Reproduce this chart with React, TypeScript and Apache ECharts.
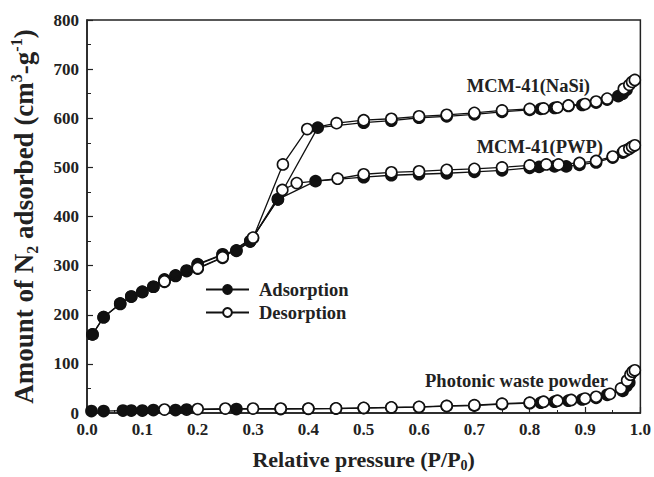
import React, { useEffect, useRef } from "react";
import * as echarts from "echarts";

const xTicks = [0, 0.1, 0.2, 0.3, 0.4, 0.5, 0.6, 0.7, 0.8, 0.9, 1.0];

const nasiAds: [number, number][] = [
  [0.01, 160], [0.03, 195], [0.06, 222], [0.08, 237], [0.1, 246], [0.12, 257], [0.14, 272],
  [0.16, 279], [0.18, 289], [0.2, 302], [0.245, 322], [0.27, 330], [0.295, 349], [0.345, 435],
  [0.417, 581], [0.5, 591], [0.55, 595], [0.6, 601], [0.65, 604], [0.7, 608], [0.75, 613],
  [0.8, 617], [0.82, 619], [0.845, 621], [0.87, 625], [0.895, 627], [0.92, 632], [0.94, 638],
  [0.96, 645], [0.968, 650], [0.975, 658],
];
const nasiDes: [number, number][] = [
  [0.14, 267], [0.2, 294], [0.245, 316], [0.3, 356], [0.354, 506], [0.398, 578], [0.451, 590],
  [0.5, 596], [0.55, 599], [0.6, 604], [0.65, 607], [0.7, 611], [0.75, 616], [0.8, 619],
  [0.825, 620], [0.85, 622], [0.87, 626], [0.9, 629], [0.92, 634], [0.94, 640], [0.97, 660],
  [0.98, 668], [0.985, 674], [0.99, 678],
];
const pwpAds: [number, number][] = [
  [0.01, 160], [0.03, 195], [0.06, 223], [0.08, 237], [0.1, 247], [0.12, 257], [0.14, 270],
  [0.16, 280], [0.18, 290], [0.2, 303], [0.245, 323], [0.27, 331], [0.295, 350], [0.345, 435],
  [0.413, 472], [0.5, 480], [0.55, 484], [0.6, 486], [0.65, 488], [0.7, 491], [0.75, 494],
  [0.8, 499], [0.817, 501], [0.845, 502], [0.866, 502], [0.89, 505], [0.92, 510], [0.95, 520],
  [0.968, 530], [0.975, 535],
];
const pwpDes: [number, number][] = [
  [0.14, 268], [0.2, 295], [0.245, 317], [0.3, 357], [0.353, 454], [0.379, 468], [0.453, 477],
  [0.5, 486], [0.55, 490], [0.6, 492], [0.65, 495], [0.7, 497], [0.75, 500], [0.8, 504],
  [0.83, 506], [0.852, 506], [0.89, 509], [0.92, 513], [0.95, 522], [0.97, 533], [0.98, 538],
  [0.985, 542], [0.99, 545],
];
const photoAds: [number, number][] = [
  [0.008, 4], [0.03, 4], [0.065, 5], [0.08, 5], [0.1, 5], [0.12, 6], [0.16, 6], [0.18, 7],
  [0.27, 8], [0.35, 8], [0.4, 8.5], [0.45, 9], [0.5, 10], [0.55, 11], [0.6, 12], [0.65, 14],
  [0.7, 15], [0.75, 18], [0.8, 20], [0.82, 21], [0.845, 23], [0.87, 25], [0.895, 27.5],
  [0.92, 31], [0.94, 37], [0.968, 45], [0.975, 55], [0.98, 62],
];
const photoDes: [number, number][] = [
  [0.14, 7], [0.2, 8], [0.25, 9], [0.3, 9], [0.35, 9], [0.4, 9], [0.45, 9.5], [0.5, 10.5],
  [0.55, 11.5], [0.6, 12.5], [0.65, 14.5], [0.7, 16], [0.75, 19], [0.8, 21], [0.825, 23],
  [0.85, 25], [0.875, 26.5], [0.9, 29.5], [0.92, 33], [0.945, 39], [0.965, 50], [0.976, 66],
  [0.982, 78], [0.986, 84], [0.99, 87],
];

const FONT = "Liberation Serif";

export default function App() {
  const ref = useRef<HTMLDivElement>(null);
  useEffect(() => {
    if (!ref.current) return;
    const chart = echarts.init(ref.current, undefined, { renderer: "svg" });
    const mk = (name: string, data: [number, number][], filled: boolean) => ({
      name,
      type: "line",
      data,
      symbol: "circle",
      symbolSize: 11,
      showSymbol: true,
      lineStyle: { color: "#111", width: 1.3 },
      itemStyle: {
        color: filled ? "#111" : "#fff",
        borderColor: "#111",
        borderWidth: 1.6,
      },
      z: filled ? 2 : 3,
    });
    const richY = {
      b: { fontFamily: FONT, fontWeight: "bold", fontSize: 27, color: "#222", lineHeight: 32 },
      sub: { fontFamily: FONT, fontWeight: "bold", fontSize: 16, color: "#222", lineHeight: 13, verticalAlign: "bottom" },
      sup: { fontFamily: FONT, fontWeight: "bold", fontSize: 16, color: "#222", lineHeight: 13, verticalAlign: "top" },
    };
    const richX = {
      b: { fontFamily: FONT, fontWeight: "bold", fontSize: 22, color: "#222", lineHeight: 26 },
      sub: { fontFamily: FONT, fontWeight: "bold", fontSize: 14, color: "#222", lineHeight: 10, verticalAlign: "bottom" },
    };
    const lblFont = `bold 18.5px "${FONT}"`;
    chart.setOption({
      animation: false,
      backgroundColor: "#fff",
      grid: {
        left: 82, right: 13, top: 20, bottom: 59,
        show: true, borderColor: "#222", borderWidth: 1.5, backgroundColor: "transparent",
      },
      xAxis: {
        type: "value",
        min: 0, max: 1, interval: 0.1,
        axisLine: { lineStyle: { color: "#222", width: 1.5 } },
        axisTick: { inside: true, length: 6, lineStyle: { color: "#222", width: 1.2 } },
        minorTick: { show: true, splitNumber: 2, length: 3, lineStyle: { color: "#222", width: 1 } },
        splitLine: { show: false },
        axisLabel: {
          fontFamily: FONT, fontWeight: "bold", fontSize: 17, color: "#222", margin: 8,
          formatter: (v: number) => (xTicks.some((t) => Math.abs(t - v) < 1e-6) ? v.toFixed(1) : ""),
        },
        name: "{b|Relative pressure (P/P}{sub|0}{b|)}",
        nameLocation: "middle",
        nameGap: 33,
        nameTextStyle: { rich: richX },
      },
      yAxis: {
        type: "value",
        min: 0, max: 800, interval: 100,
        axisLine: { show: true, lineStyle: { color: "#222", width: 1.5 } },
        axisTick: { show: true, inside: true, length: 6, lineStyle: { color: "#222", width: 1.2 } },
        minorTick: { show: true, splitNumber: 2, length: 4, lineStyle: { color: "#222", width: 1 } },
        splitLine: { show: false },
        axisLabel: { fontFamily: FONT, fontWeight: "bold", fontSize: 17, color: "#222", margin: 8 },
        name: "{b|Amount of N}{sub|2}{b| adsorbed (cm}{sup|3}{b|-g}{sup|-1}{b|)}",
        nameLocation: "middle",
        nameGap: 47,
        nameTextStyle: { rich: richY },
      },
      legend: {
        data: ["Adsorption", "Desorption"],
        orient: "vertical",
        left: 200,
        top: 275,
        itemWidth: 43,
        itemHeight: 11,
        itemGap: 4,
        textStyle: { fontFamily: FONT, fontWeight: "bold", fontSize: 18.5, color: "#222", padding: [0, 0, 0, 5] },
      },
      graphic: [
        { type: "text", right: 64, top: 76, style: { text: "MCM-41(NaSi)", font: lblFont, fill: "#222" } },
        { type: "text", right: 51, top: 137, style: { text: "MCM-41(PWP)", font: lblFont, fill: "#222" } },
        { type: "text", right: 46, top: 371, style: { text: "Photonic waste powder", font: lblFont, fill: "#222" } },
      ],
      series: [
        mk("Adsorption", nasiAds, true),
        mk("Adsorption", pwpAds, true),
        mk("Adsorption", photoAds, true),
        mk("Desorption", nasiDes, false),
        mk("Desorption", pwpDes, false),
        mk("Desorption", photoDes, false),
      ],
    });
    return () => chart.dispose();
  }, []);
  return <div ref={ref} style={{ width: 654, height: 477, position: "absolute", left: 0, top: 0 }} />;
}
